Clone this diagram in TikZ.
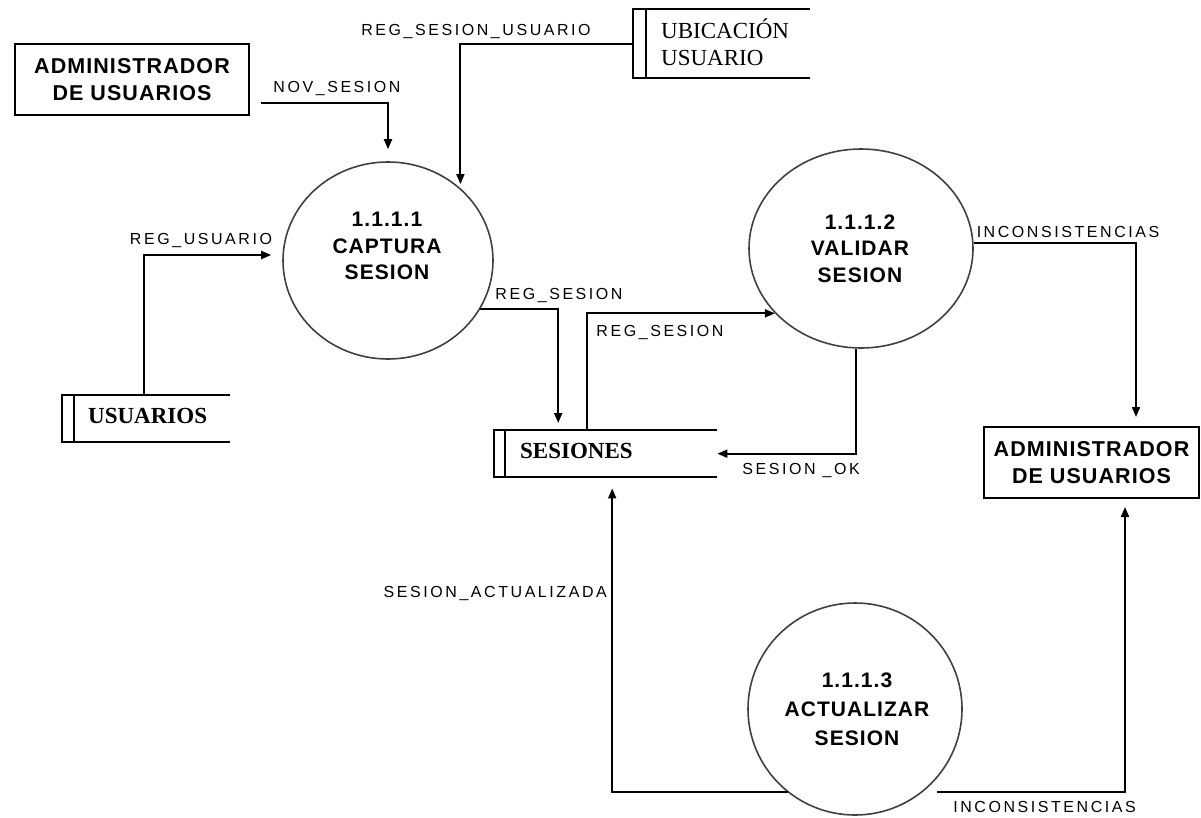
\documentclass[tikz,border=0pt]{standalone}
\usepackage{fontspec}
\setmainfont{Liberation Sans}
\newfontfamily\flowfont{Liberation Sans}[LetterSpace=16]
\newfontfamily\procfont{Liberation Sans}[LetterSpace=5]
\newfontfamily\storefont{Liberation Serif}
\usetikzlibrary{arrows.meta,shapes.geometric}

\begin{document}
\begin{tikzpicture}[x=1pt,y=-1pt,
  flow/.style={line width=1.9pt, -{Triangle[length=10pt,width=8pt]}},
  flowlbl/.style={font=\flowfont\fontsize{16}{18}\selectfont, inner sep=0},
  proc/.style={ellipse, draw=black!75, line width=1.6pt, inner sep=0},
  proctxt/.style={font=\procfont\bfseries\fontsize{21}{26.5}\selectfont, align=center, inner sep=0},
  extent/.style={draw, line width=2pt, inner sep=0, align=center,
    font=\procfont\bfseries\fontsize{21.5}{26.5}\selectfont},
  store/.style={inner sep=0, anchor=north west},
  storetxt/.style={font=\storefont\fontsize{23}{27}\selectfont, inner sep=0, anchor=base west},
  storeline/.style={line width=2pt},
]
\useasboundingbox (0,0) rectangle (1201,817);

% external entities
\node[extent, minimum width=234pt, minimum height=71pt] (adm1) at (132,79.5) {ADMINISTRADOR\\DE USUARIOS};
\node[extent, minimum width=215pt, minimum height=71pt] (adm2) at (1091.5,462.5) {ADMINISTRADOR\\DE USUARIOS};

% processes
\node[proc, minimum width=210pt, minimum height=197pt] (c1) at (388,260.5) {};
\node[proctxt] (c1t) at (387,246) {1.1.1.1\\CAPTURA\\SESION};
\node[proc, minimum width=224pt, minimum height=199pt] (c2) at (861,248.5) {};
\node[proctxt] (c2t) at (860,248.5) {1.1.1.2\\VALIDAR\\SESION};
\node[proc, minimum width=214pt, minimum height=212pt] (c3) at (855,709) {};
\node[proctxt, font=\procfont\bfseries\fontsize{21}{29}\selectfont] (c3t) at (857,709.5) {1.1.1.3\\ACTUALIZAR\\SESION};

% data stores
\node[store, minimum width=177pt, minimum height=69pt] (ubic) at (633,9) {};
\node[store, minimum width=168pt, minimum height=47pt] (usu) at (62,395) {};
\node[store, minimum width=223pt, minimum height=47pt] (ses) at (494,430) {};
\foreach \s/\d in {ubic/13, usu/12, ses/11} {
  \draw[storeline] (\s.north east) -- (\s.north west) -- (\s.south west) -- (\s.south east);
  \draw[storeline] ([xshift=\d pt]\s.north west) -- ([xshift=\d pt]\s.south west);
}
\node[storetxt] (ubic1) at (661,38) {UBICACIÓN};
\node[storetxt] (ubic2) at (661,65) {USUARIO};
\node[storetxt, font=\storefont\bfseries\fontsize{23}{27}\selectfont] (usut) at (88,423) {USUARIOS};
\node[storetxt, font=\storefont\bfseries\fontsize{23}{27}\selectfont] (sest) at (520,458) {SESIONES};

% data flows
\draw[flow] ([xshift=11pt,yshift=-23.5pt]adm1.east) -| ([yshift=12pt]c1.north);
\draw[flow, shorten >=4pt] (ubic.west) -| (c1.45);
\draw[flow] ([xshift=82pt]usu.north west) |- ([xshift=-11pt,yshift=5.5pt]c1.west);
\draw[flow] (c1.-28) -| ([xshift=-47.5pt,yshift=7pt]ses.north);
\draw[flow] ([xshift=-18.5pt]ses.north) |- (c2.217);
\draw[flow] ([xshift=-5pt]c2.south) |- (ses.east);
\draw[flow] ([yshift=5.5pt]c2.east) -| ([xshift=44.5pt,yshift=9pt]adm2.north);
\draw[flow] (c3.231) -| ([xshift=6.5pt,yshift=-11pt]ses.south);
\draw[flow] ([xshift=15pt]c3.-51) -| ([xshift=33.5pt,yshift=-8pt]adm2.south);

% flow labels
\node[flowlbl] (l1) at (476,32) {REG\_SESION\_USUARIO};
\node[flowlbl] (l2) at (337,89) {NOV\_SESION};
\node[flowlbl] (l3) at (201,240) {REG\_USUARIO};
\node[flowlbl] (l4) at (559,295) {REG\_SESION};
\node[flowlbl] (l5) at (660,332) {REG\_SESION};
\node[flowlbl] (l6) at (801,470) {SESION \_OK};
\node[flowlbl] (l7) at (1068,232) {INCONSISTENCIAS};
\node[flowlbl, anchor=east] (l8) at (607,593) {SESION\_ACTUALIZADA};
\node[flowlbl, anchor=east] (l9) at (1136,807) {INCONSISTENCIAS};
\end{tikzpicture}
\end{document}
